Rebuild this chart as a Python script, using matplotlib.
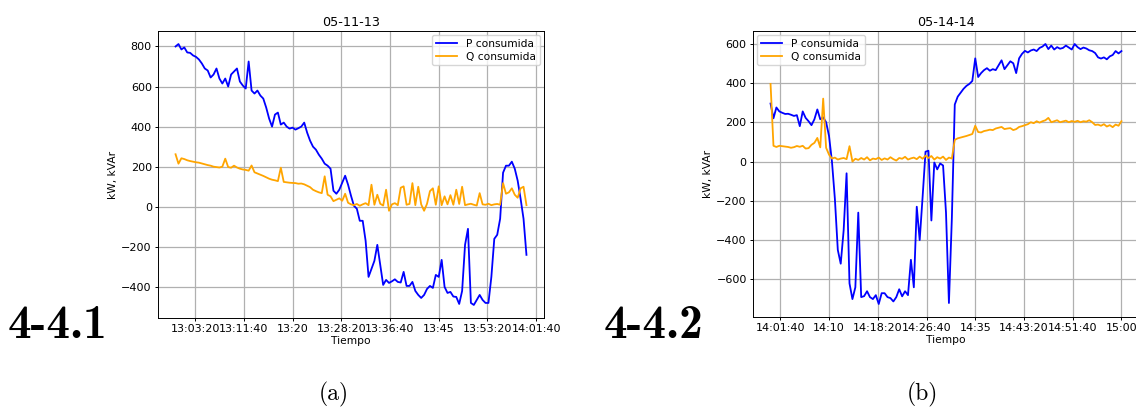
import numpy as np
import matplotlib
matplotlib.use("Agg")
import matplotlib.pyplot as plt
from matplotlib.ticker import MultipleLocator, FuncFormatter

STEP = 30                 # seconds between samples
START_A = 13 * 3600       # 13:00:00
START_B = 14 * 3600       # 14:00:00
TITLE_A = "05-11-13"
TITLE_B = "05-14-14"
LABELS = ["P consumida", "Q consumida"]

p_a = [800, 812, 785, 795, 770, 768, 755, 748, 735, 715, 690, 680, 645, 660, 690, 640,
       615, 640, 600, 660, 675, 690, 625, 605, 590, 725, 580, 565, 580, 555, 540, 495,
       440, 400, 460, 470, 410, 420, 400, 390, 395, 385, 392, 400, 420, 370, 330, 300,
       285, 260, 240, 215, 205, 190, 80, 65, 85, 120, 155, 110, 55, 5, -10, -70,
       -70, -170, -350, -310, -270, -190, -290, -390, -365, -380, -372, -362, -375, -378, -325, -395,
       -395, -375, -420, -440, -455, -440, -410, -395, -405, -340, -350, -265, -400, -430, -425, -448,
       -450, -485, -420, -190, -110, -480, -490, -465, -440, -465, -480, -480, -350, -160, -140, -60,
       170, 205, 205, 225, 190, 130, 40, -60, -240]

q_a = [262, 215, 242, 238, 232, 228, 225, 222, 220, 216, 212, 208, 205, 200, 198, 196,
       200, 240, 198, 195, 205, 196, 190, 186, 184, 180, 206, 172, 166, 160, 154, 147,
       140, 135, 132, 128, 195, 124, 122, 120, 119, 118, 115, 116, 112, 105, 98, 85,
       78, 72, 68, 152, 60, 52, 28, 35, 42, 30, 65, 20, 12, 8, 14, 5,
       12, 18, 8, 110, 10, 60, 15, 6, 85, -20, 12, 18, 8, 95, 102, 10,
       14, 118, 8, 100, 12, -20, 15, 78, 92, 10, 102, 8, 52, 12, 58, 10,
       85, 14, 100, 8, 12, 15, 10, 6, 68, 12, 10, 15, 8, 12, 14, 10,
       118, 65, 72, 92, 60, 45, 92, 100, 8]

p_b = [295, 220, 275, 255, 248, 242, 243, 238, 232, 236, 180, 255, 222, 205, 185, 215,
       265, 215, 225, 200, 130, 0, -190, -450, -520, -350, -60, -620, -700, -640, -260, -690,
       -685, -660, -690, -700, -680, -725, -670, -670, -690, -695, -712, -690, -650, -686, -660, -680,
       -500, -640, -230, -400, -180, 50, 55, -300, -5, -40, -10, -20, -260, -720, -290, 290,
       330, 350, 370, 385, 395, 410, 525, 430, 450, 465, 475, 462, 470, 465, 490, 515,
       470, 490, 510, 500, 450, 525, 548, 563, 555, 565, 570, 562, 578, 585, 598, 572,
       590, 570, 582, 574, 578, 590, 580, 570, 598, 582, 572, 580, 575, 566, 562, 552,
       530, 524, 530, 520, 535, 542, 562, 550, 562]

q_b = [395, 80, 74, 80, 78, 76, 74, 70, 73, 79, 75, 80, 66, 68, 85, 95,
       120, 72, 320, 70, 35, 15, 20, 10, 15, 18, 12, 78, 0, 14, 8, 18,
       10, 22, 6, 15, 12, 20, 8, 16, 10, 22, 12, 5, 18, 14, 24, 10,
       16, 20, 12, 25, 14, 30, 18, 28, 10, 22, 15, 25, 8, 20, 15, 110,
       118, 122, 126, 130, 135, 140, 182, 150, 148, 155, 158, 162, 160, 168, 172, 176,
       165, 168, 170, 160, 165, 176, 180, 185, 190, 200, 195, 205, 198, 205, 210, 222,
       200, 205, 210, 200, 204, 208, 200, 206, 202, 207, 200, 205, 203, 210, 200, 186,
       188, 182, 190, 178, 185, 175, 188, 182, 205]

FS = 8.0  # tick / label / legend size


def hms(x, pos=None):
    s = int(round(x))
    h, m, sec = s // 3600, (s % 3600) // 60, s % 60
    if sec == 0:
        return f"{h}:{m:02d}"
    return f"{h}:{m:02d}:{sec:02d}"


def draw(ax, start, p, q, title, loc):
    t = start + STEP * np.arange(len(p))
    ax.plot(t, p, color="blue", lw=1.3, label=LABELS[0])
    ax.plot(t, q, color="orange", lw=1.3, label=LABELS[1])
    ax.set_title(title, fontsize=9.2, pad=3.5)
    ax.set_xlabel("Tiempo", fontsize=7.7, labelpad=1.5)
    ax.set_ylabel("kW, kVAr", fontsize=7.7, labelpad=2)
    ax.xaxis.set_major_locator(MultipleLocator(500))
    ax.xaxis.set_major_formatter(FuncFormatter(hms))
    ax.tick_params(labelsize=FS, length=2.5, width=0.7, pad=2)
    ax.grid(True, color="#b0b0b0", lw=0.9)
    for sp in ax.spines.values():
        sp.set_linewidth(0.7)
    ax.legend(loc=loc, fontsize=7.7, handlelength=2.0, borderpad=0.35,
              labelspacing=0.25, framealpha=0.8, borderaxespad=0.4)


fig = plt.figure(figsize=(11.36, 4.08), dpi=100)
W, H = 1136, 408

ax_a = fig.add_axes([158 / W, 1 - 318 / H, (544 - 158) / W, (318 - 31) / H])
draw(ax_a, START_A, p_a, q_a, TITLE_A, "upper right")

ax_b = fig.add_axes([753 / W, 1 - 317 / H, (1139 - 753) / W, (317 - 31) / H])
draw(ax_b, START_B, p_b, q_b, TITLE_B, "upper left")

# LaTeX-like labels of the composite figure
fig.text(8 / W, 1 - 326 / H, "4-4.1", fontname="cmb10", fontsize=34, va="center", ha="left")
fig.text(604 / W, 1 - 326 / H, "4-4.2", fontname="cmb10", fontsize=34, va="center", ha="left")
fig.text(334 / W, 1 - 394 / H, "(a)", fontname="cmr10", fontsize=17, va="center", ha="center")
fig.text(922 / W, 1 - 394 / H, "(b)", fontname="cmr10", fontsize=17, va="center", ha="center")

fig.savefig("out.png", dpi=100, facecolor="white")
